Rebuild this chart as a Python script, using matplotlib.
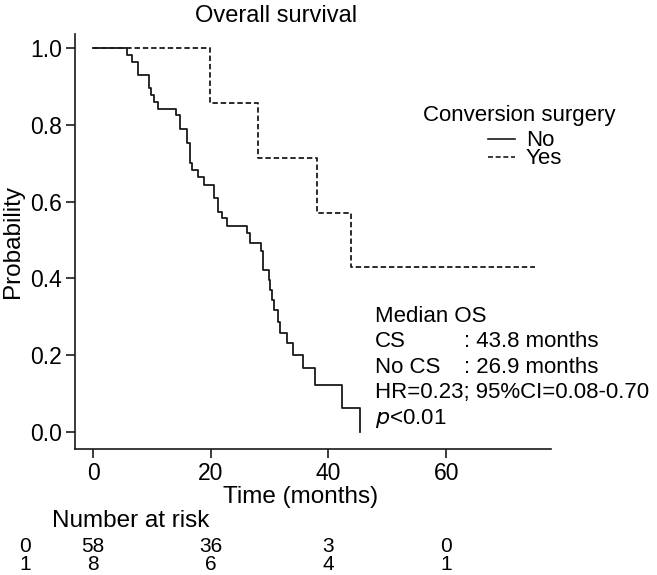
"""
Kaplan-Meier overall survival by conversion surgery, with a number-at-risk table.
"""

# Imports
import matplotlib
matplotlib.use("Agg")
import matplotlib.pyplot as plt
import matplotlib.transforms as mtransforms
from matplotlib.lines import Line2D

plt.rcParams['font.family'] = ['Liberation Sans', 'DejaVu Sans']

# ----------------------------------------------------------------------------------------------------------------------
# Data

# No conversion surgery (step times in months, survival after each step)
timesNo = [0, 5.7, 6.6, 7.7, 9.5, 9.9, 10.4, 11.0, 14.1, 14.7, 15.9, 16.5, 16.9, 17.9, 18.9, 20.6, 21.2, 21.9,
           22.8, 26.1, 26.7, 28.6, 28.8, 29.9, 30.0, 30.4, 30.8, 31.5, 31.8, 33.0, 33.9, 35.6, 37.7, 42.3, 45.4]
survNo = [1.0, 0.982, 0.963, 0.930, 0.895, 0.878, 0.860, 0.841, 0.824, 0.789, 0.752, 0.700, 0.682, 0.665, 0.643,
          0.609, 0.574, 0.556, 0.536, 0.517, 0.493, 0.470, 0.422, 0.396, 0.370, 0.344, 0.318, 0.287, 0.259, 0.231,
          0.201, 0.166, 0.122, 0.062, 0.0]

# Conversion surgery
timesYes = [0, 19.9, 28.1, 38.1, 43.8, 75.0]
survYes = [1.0, 0.857, 0.714, 0.571, 0.429, 0.429]

riskTimes = [0, 20, 40, 60]
riskNo = [58, 36, 3, 0]
riskYes = [8, 6, 4, 1]

xTicks = [0, 20, 40, 60]
yTicks = [0.0, 0.2, 0.4, 0.6, 0.8, 1.0]

# ----------------------------------------------------------------------------------------------------------------------

W, H = 657, 575
fig = plt.figure(figsize=(W / 100, H / 100), dpi=100)
ax = fig.add_axes([75 / W, 1 - 449 / H, 476 / W, 415 / H])

ink = '#1a1a1a'
dashStyle = (0, (3.0, 1.6))
ax.step(timesNo, survNo, where='post', color=ink, lw=1.3)
ax.step(timesYes, survYes, where='post', color=ink, lw=1.3, linestyle=dashStyle)

ax.set_xlim(-3.06, 77.8)
ax.set_ylim(-0.044, 1.036)
ax.set_xticks(xTicks)
ax.set_yticks(yTicks)
ax.set_yticklabels(['%.1f' % v for v in yTicks])
ax.tick_params(direction='out', length=6.5, width=1.2, color=ink, labelsize=16.5, labelcolor='black')
ax.tick_params(axis='y', pad=3)
ax.tick_params(axis='x', pad=3)
for side in ['top', 'right']:
    ax.spines[side].set_visible(False)
for side in ['left', 'bottom']:
    ax.spines[side].set_color(ink)
    ax.spines[side].set_linewidth(1.2)

ax.set_ylabel('Probability', fontsize=17.5, labelpad=4)


def px(x, y):
    return x / W, 1 - y / H


# Legend drawn by hand to match the tight line spacing
fig.text(*px(519, 121), 'Conversion surgery', fontsize=16, ha='center', va='baseline')
for yc, label, ls in [(139, 'No', '-'), (157, 'Yes', dashStyle)]:
    x0, y0 = px(488, yc)
    x1, _ = px(515, yc)
    fig.add_artist(Line2D([x0, x1], [y0, y0], color=ink, lw=1.2, linestyle=ls, transform=fig.transFigure))
    fig.text(*px(526, yc + 1), label, fontsize=16, va='center')

# Title and axis label
fig.text(*px(276, 22), 'Overall survival', fontsize=17, ha='center', va='baseline')
fig.text(*px(301, 497), 'Time (months)', fontsize=17.5, ha='center', va='center')

# Statistics block
statsLines = ['Median OS', 'CS', 'No CS', 'HR=0.23; 95%CI=0.08-0.70']
baselines = [322, 347, 373, 398]
for txt, yb in zip(statsLines, baselines):
    fig.text(*px(375, yb), txt, fontsize=16, va='baseline')
fig.text(*px(464, 347), ': 43.8 months', fontsize=16, va='baseline')
fig.text(*px(464, 373), ': 26.9 months', fontsize=16, va='baseline')
fig.text(*px(375, 424), r'$p$<0.01', fontsize=16, va='baseline')

# Number at risk table
fig.text(*px(52, 521), 'Number at risk', fontsize=17.5, va='center')
blend = mtransforms.blended_transform_factory(ax.transData, fig.transFigure)
for row, (grp, counts) in enumerate([('0', riskNo), ('1', riskYes)]):
    yRow = 1 - (546 + 18 * row) / H
    fig.text(25 / W, yRow, grp, fontsize=15, ha='center', va='center')
    for t, n in zip(riskTimes, counts):
        ax.text(t, yRow, str(n), transform=blend, fontsize=15, ha='center', va='center')

fig.savefig('out.png', dpi=100)
